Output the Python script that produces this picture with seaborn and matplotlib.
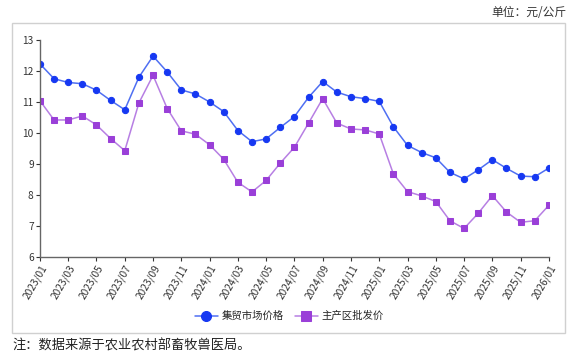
import pandas as pd
import seaborn as sns
import matplotlib.pyplot as plt
from matplotlib.patches import Rectangle

months = [f"{y}/{m:02d}" for y in (2023, 2024, 2025) for m in range(1, 13)] + ["2026/01"]

market_price = [
    12.23, 11.75, 11.63, 11.59, 11.38, 11.05, 10.75, 11.80, 12.48, 11.97, 11.39, 11.26,
    11.00, 10.69, 10.08, 9.72, 9.81, 10.18, 10.53, 11.15, 11.66, 11.32, 11.17, 11.11,
    11.02, 10.20, 9.60, 9.37, 9.20, 8.73, 8.52, 8.81, 9.14, 8.86, 8.61, 8.59,
    8.87,
]
wholesale_price = [
    11.04, 10.42, 10.42, 10.55, 10.26, 9.82, 9.43, 10.97, 11.86, 10.79, 10.07, 9.96,
    9.62, 9.15, 8.41, 8.10, 8.47, 9.03, 9.54, 10.32, 11.11, 10.32, 10.13, 10.10,
    9.97, 8.68, 8.11, 7.97, 7.79, 7.17, 6.92, 7.41, 7.98, 7.45, 7.12, 7.17,
    7.67,
]
series_names = ["集贸市场价格", "主产区批发价"]

df = pd.DataFrame({"idx": range(len(months)), "month": months,
                   series_names[0]: market_price, series_names[1]: wholesale_price})

sns.set_theme(style="white")
plt.rcParams["font.family"] = ["Noto Sans CJK SC", "DejaVu Sans"]

fig = plt.figure(figsize=(5.79, 3.54), dpi=100)
ax = fig.add_axes([0.069, 0.274, 0.879, 0.613])

sns.lineplot(data=df, x="idx", y=series_names[0], ax=ax, color="#4f6ff2", lw=1.1,
             marker="o", markersize=4.5, markerfacecolor="#1638f2",
             markeredgecolor="#1638f2", label=series_names[0])
sns.lineplot(data=df, x="idx", y=series_names[1], ax=ax, color="#b77fe3", lw=1.1,
             marker="s", markersize=4.2, markerfacecolor="#9a3fd8",
             markeredgecolor="#9a3fd8", label=series_names[1])

ax.set_xlim(0, len(months) - 1)
ax.set_ylim(6, 13)
ax.set_yticks(range(6, 14))
ax.set_xticks(range(0, len(months), 2))
ax.set_xticklabels(months[::2], rotation=60, ha="right", rotation_mode="anchor")
ax.set_xlabel("")
ax.set_ylabel("")
ax.tick_params(axis="both", labelsize=7.3, colors="#333333", length=3, width=0.8,
               direction="out", bottom=True, left=True, pad=1.5)
for side in ("top", "right"):
    ax.spines[side].set_visible(False)
for side in ("left", "bottom"):
    ax.spines[side].set_color("#666666")
    ax.spines[side].set_linewidth(1.0)

ax.legend(loc="center", bbox_to_anchor=(0.5, 0.107), bbox_transform=fig.transFigure,
          ncol=2, frameon=False, fontsize=7.5, handlelength=2.2, columnspacing=1.0,
          handletextpad=0.4, markerscale=1.6)

fig.patches.append(Rectangle((0.021, 0.059), 0.955, 0.877, transform=fig.transFigure,
                             fill=False, edgecolor="#d0d0d0", lw=1.0))
fig.text(0.978, 0.965, "单位：元/公斤", ha="right", va="center", fontsize=8.5, color="#333333")
fig.text(0.022, 0.022, "注：数据来源于农业农村部畜牧兽医局。", ha="left", va="center",
         fontsize=9.5, color="#222222")

fig.savefig("out.png", dpi=100)
